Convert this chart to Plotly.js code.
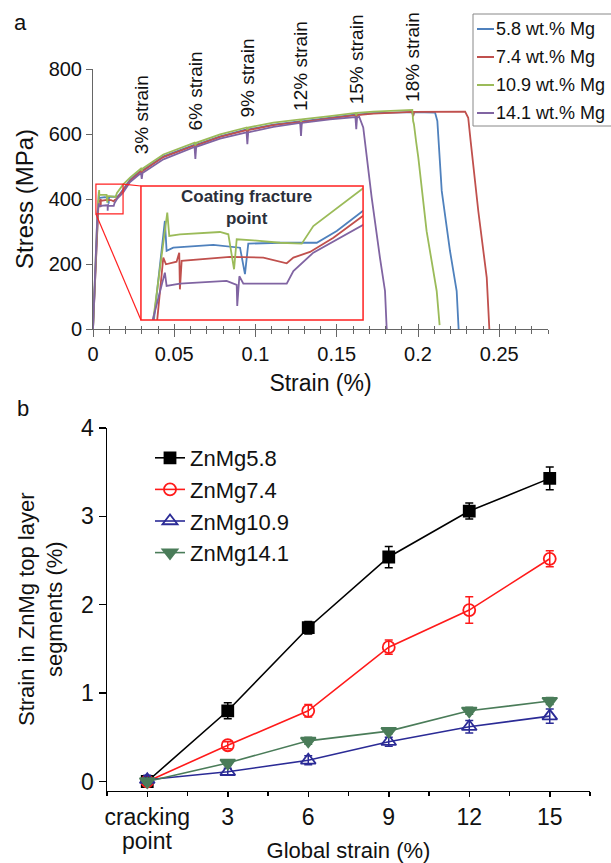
<!DOCTYPE html>
<html><head><meta charset="utf-8">
<script src="https://cdn.plot.ly/plotly-3.0.1.min.js"></script>
<style>html,body{margin:0;padding:0;background:#fff;} #chart{width:611px;height:863px;}</style>
</head><body><div id="chart"></div>
<script>
// ---------- Panel a data (strain, stress in MPa) ----------
const strain58 = [0, 0.00278, 0.0036, 0.00373, 0.00423, 0.00724, 0.00925, 0.00962, 0.00987, 0.01226, 0.01502, 0.01652, 0.01848, 0.0228, 0.0295, 0.030, 0.0305, 0.0433, 0.0625, 0.063, 0.0635, 0.0782, 0.0945, 0.095, 0.0955, 0.111, 0.1275, 0.128, 0.1285, 0.1458, 0.1615, 0.162, 0.1625, 0.1725, 0.193, 0.1965, 0.197, 0.1975, 0.2105, 0.2119, 0.2146, 0.2197, 0.2238, 0.2248, 0.2250];
const stress58 = [0, 354.5, 422, 401.4, 403.6, 405.5, 403.6, 385.4, 406.4, 407, 407, 415.1, 428.8, 460, 488, 478, 488, 531, 567, 555, 567, 593, 614, 602, 614, 629, 639, 628, 639, 650, 660, 649, 660, 664, 667, 667, 656, 667, 666, 640, 425, 240, 117, 4, 0];

const strain74 = [0, 0.00303, 0.00348, 0.00368, 0.00448, 0.00468, 0.00473, 0.00486, 0.0085, 0.011, 0.01276, 0.01326, 0.01451, 0.01627, 0.01848, 0.0228, 0.0295, 0.030, 0.0305, 0.0433, 0.0625, 0.063, 0.0635, 0.0782, 0.0945, 0.095, 0.0955, 0.111, 0.1275, 0.128, 0.1285, 0.1458, 0.1615, 0.162, 0.1625, 0.1725, 0.193, 0.1965, 0.197, 0.1975, 0.229, 0.2309, 0.2324, 0.2371, 0.2423, 0.2437, 0.2439];
const stress74 = [0, 354.5, 396.8, 392.2, 394, 400.2, 375, 394.5, 397.3, 396.8, 392.9, 396.8, 400.7, 410.5, 425.4, 456, 486, 477, 486, 529, 565, 554, 565, 591, 612, 601, 612, 627, 637, 626, 637, 648, 658, 647, 658, 663, 667, 668, 654, 668, 669, 650, 578, 363, 158, 4, 0];

const strain109 = [0, 0.00273, 0.00378, 0.00393, 0.00473, 0.00774, 0.00837, 0.0088, 0.0090, 0.01025, 0.01226, 0.01389, 0.01476, 0.01627, 0.01848, 0.0228, 0.0295, 0.030, 0.0305, 0.0433, 0.0625, 0.063, 0.0635, 0.0782, 0.0945, 0.095, 0.0955, 0.111, 0.1275, 0.128, 0.1285, 0.1458, 0.1615, 0.162, 0.1625, 0.1725, 0.193, 0.1965, 0.197, 0.1975, 0.1988, 0.2002, 0.2053, 0.2115, 0.2133];
const stress109 = [0, 354.5, 427.7, 411.7, 412.8, 414.4, 412.8, 388.8, 409.4, 408.7, 407, 406.4, 418.5, 428.8, 444.2, 466, 494, 486, 494, 537, 573, 565, 573, 599, 620, 612, 620, 635, 645, 637, 645, 655, 665, 657, 665, 669, 673, 674, 640, 630, 578, 527, 301, 117, 12];

const strain141 = [0, 0.0027, 0.0036, 0.00373, 0.00473, 0.00824, 0.0090, 0.00904, 0.0092, 0.0095, 0.01276, 0.01326, 0.01476, 0.01848, 0.0228, 0.0295, 0.030, 0.0305, 0.0433, 0.0625, 0.063, 0.0635, 0.0782, 0.0945, 0.095, 0.0955, 0.111, 0.1275, 0.128, 0.1285, 0.1458, 0.1615, 0.162, 0.1625, 0.1638, 0.1663, 0.1684, 0.1715, 0.1766, 0.1797, 0.1807, 0.1809];
const stress141 = [0, 354.5, 386.5, 377.3, 378.9, 380.8, 378, 363.6, 384, 378.9, 378.9, 387.6, 400.2, 419.2, 452, 480, 462, 480, 522, 560, 523, 560, 586, 605, 569, 605, 622, 634, 594, 634, 645, 652, 615, 650, 653, 620, 527, 404, 219, 117, 4, 0];

const seriesA = ["5.8 wt.% Mg", "7.4 wt.% Mg", "10.9 wt.% Mg", "14.1 wt.% Mg"];
const strainMarks = [0.030, 0.063, 0.095, 0.128, 0.162, 0.197];
const strainMarkLabels = ["3% strain", "6% strain", "9% strain", "12% strain", "15% strain", "18% strain"];
const strainMarkBase = [532, 604, 644, 665, 686, 693];
const xTickValsA = [0, 0.05, 0.1, 0.15, 0.2, 0.25];
const xTickTextA = ["0", "0.05", "0.1", "0.15", "0.2", "0.25"];
const yTickValsA = [0, 200, 400, 600, 800];

// ---------- Panel b data ----------
const catsB = [0, 3, 6, 9, 12, 15];
const catLabelsB = ["cracking", "3", "6", "9", "12", "15"];
const seriesB = ["ZnMg5.8", "ZnMg7.4", "ZnMg10.9", "ZnMg14.1"];
const znmg58 = [0, 0.80, 1.74, 2.54, 3.06, 3.43];
const znmg58err = [0.02, 0.09, 0.07, 0.12, 0.09, 0.13];
const znmg74 = [0, 0.41, 0.80, 1.52, 1.94, 2.52];
const znmg74err = [0.02, 0.04, 0.07, 0.08, 0.15, 0.09];
const znmg109 = [0.02, 0.11, 0.24, 0.45, 0.62, 0.74];
const znmg109err = [0.05, 0.04, 0.05, 0.05, 0.07, 0.08];
const znmg141 = [0, 0.21, 0.46, 0.57, 0.80, 0.91];
const znmg141err = [0.03, 0.03, 0.04, 0.03, 0.04, 0.04];

// ---------- layout helpers ----------
const W = 611, H = 863;
const PX = x => x / W;
const PY = y => 1 - y / H;
const FONT = "Liberation Sans, Arial, Helvetica, sans-serif";

const xRangeA = [0, 0.28], yRangeA = [0, 800];
const xDomA = [PX(93), PX(548)], yDomA = [PY(329), PY(69)];
const zoomX = [0.0018, 0.0185], zoomY = [354, 446];
const insetBox = {x0: 0.0295, x1: 0.1662, y0: 28, y1: 440};
const toDomX = v => xDomA[0] + (v - xRangeA[0]) / (xRangeA[1] - xRangeA[0]) * (xDomA[1] - xDomA[0]);
const toDomY = v => yDomA[0] + (v - yRangeA[0]) / (yRangeA[1] - yRangeA[0]) * (yDomA[1] - yDomA[0]);

const colorsA = ["#4F81BD", "#C0504D", "#9BBB59", "#8064A2"];
const curves = [[strain58, stress58], [strain74, stress74], [strain109, stress109], [strain141, stress141]];

const traces = [];
curves.forEach((c, i) => {
  traces.push({x: c[0], y: c[1], type: "scatter", mode: "lines", name: seriesA[i], showlegend: false,
    line: {color: colorsA[i], width: 1.8}, xaxis: "x", yaxis: "y", hoverinfo: "skip"});
});
curves.forEach((c, i) => {
  traces.push({x: c[0], y: c[1], type: "scatter", mode: "lines", name: seriesA[i] + " (inset)", showlegend: false,
    line: {color: colorsA[i], width: 1.8}, xaxis: "x3", yaxis: "y3", hoverinfo: "skip"});
});
// empty trace that only carries the inner half of the crossing x ticks of panel a
traces.push({x: [], y: [], type: "scatter", mode: "lines", xaxis: "x4", yaxis: "y", showlegend: false, hoverinfo: "skip"});

const colorsB = ["#000000", "#FF1A1A", "#2B2B96", "#4A7C59"];
const symbolsB = ["square", "circle-open", "triangle-up-open", "triangle-down"];
const sizesB = [11, 12, 13, 13];
const valsB = [znmg58, znmg74, znmg109, znmg141];
const errsB = [znmg58err, znmg74err, znmg109err, znmg141err];
valsB.forEach((v, i) => {
  traces.push({x: catsB, y: v, type: "scatter", mode: "lines+markers", name: seriesB[i],
    xaxis: "x2", yaxis: "y2", legend: "legend2",
    line: {color: colorsB[i], width: 1.6},
    marker: {symbol: symbolsB[i], size: sizesB[i], color: colorsB[i], line: {color: colorsB[i], width: 1.8}},
    error_y: {type: "data", array: errsB[i], visible: true, color: colorsB[i], thickness: 1.5, width: 4}});
});

const shapes = [
  {type: "rect", xref: "x", yref: "y", x0: zoomX[0], x1: zoomX[1], y0: zoomY[0], y1: zoomY[1], line: {color: "#FF2020", width: 1.2}},
  {type: "rect", xref: "x", yref: "y", x0: insetBox.x0, x1: insetBox.x1, y0: insetBox.y0, y1: insetBox.y1, line: {color: "#FF2020", width: 1.5}},
  {type: "line", xref: "x", yref: "y", x0: zoomX[1], y0: zoomY[1], x1: insetBox.x0, y1: insetBox.y1, line: {color: "#FF2020", width: 1.2}},
  {type: "line", xref: "x", yref: "y", x0: zoomX[0], y0: zoomY[0], x1: insetBox.x0, y1: insetBox.y0, line: {color: "#FF2020", width: 1.2}},
  // legend box (panel a)
  {type: "rect", xref: "paper", yref: "paper", x0: PX(473), x1: PX(640), y0: PY(126), y1: PY(14), line: {color: "#888888", width: 1}, fillcolor: "#ffffff"}
];
const legRowY = [29, 57, 85, 113];
const annotations = [
  {text: "a", xref: "paper", yref: "paper", x: PX(12), y: PY(22), xanchor: "left", yanchor: "middle", showarrow: false, font: {size: 22, color: "#111"}},
  {text: "b", xref: "paper", yref: "paper", x: PX(15), y: PY(408), xanchor: "left", yanchor: "middle", showarrow: false, font: {size: 22, color: "#111"}},
  {text: "<b>Coating fracture<br>point</b>", xref: "paper", yref: "paper", x: PX(247), y: PY(208), xanchor: "center", yanchor: "middle", showarrow: false, font: {size: 17, color: "#2B2F3A"}},
  // second line of the first category label of panel b (tight leading as in the original)
  {text: "point", xref: "x2", yref: "paper", x: catsB[0], y: PY(841), xanchor: "center", yanchor: "middle", showarrow: false, font: {size: 23, color: "#111"}}
];
strainMarks.forEach((s, i) => {
  annotations.push({text: strainMarkLabels[i], xref: "x", yref: "y", x: s, y: strainMarkBase[i], textangle: -90,
    xanchor: "center", yanchor: "bottom", showarrow: false, font: {size: 19, color: "#111"}});
});
seriesA.forEach((name, i) => {
  shapes.push({type: "line", xref: "paper", yref: "paper", x0: PX(477), x1: PX(494), y0: PY(legRowY[i]), y1: PY(legRowY[i]), line: {color: colorsA[i], width: 2}});
  annotations.push({text: name, xref: "paper", yref: "paper", x: PX(494), y: PY(legRowY[i]), xanchor: "left", yanchor: "middle", showarrow: false, font: {size: 18, color: "#111"}});
});

const axisA = {showgrid: false, zeroline: false, showline: true, linecolor: "#666", linewidth: 1, ticks: "outside", tickcolor: "#666", tickwidth: 1, tickfont: {size: 20, color: "#111"}};
const layout = {
  width: W, height: H, margin: {l: 0, r: 0, t: 0, b: 0}, paper_bgcolor: "#fff", plot_bgcolor: "rgba(0,0,0,0)",
  font: {family: FONT, color: "#111"}, showlegend: true,
  xaxis: Object.assign({}, axisA, {domain: xDomA, range: xRangeA, anchor: "y", tickmode: "array", tickvals: xTickValsA, ticktext: xTickTextA, ticklen: 7,
    minor: {dtick: 0.01, tick0: 0, ticks: "outside", ticklen: 3.5, tickcolor: "#666", showgrid: false},
    title: {text: "Strain (%)", font: {size: 23}, standoff: 10}}),
  xaxis4: {overlaying: "x", anchor: "y", range: xRangeA, showgrid: false, zeroline: false, showline: false, showticklabels: false,
    tickmode: "array", tickvals: xTickValsA, ticks: "inside", ticklen: 5, tickcolor: "#666", tickwidth: 1,
    minor: {dtick: 0.01, tick0: 0, ticks: "inside", ticklen: 3.5, tickcolor: "#666", showgrid: false}},
  yaxis: Object.assign({}, axisA, {domain: yDomA, range: yRangeA, anchor: "x", tickmode: "array", tickvals: yTickValsA, ticklen: 6,
    title: {text: "Stress (MPa)", font: {size: 24}, standoff: 8}}),
  xaxis3: {domain: [toDomX(insetBox.x0), toDomX(insetBox.x1)], range: zoomX, anchor: "y3", visible: false},
  yaxis3: {domain: [toDomY(insetBox.y0), toDomY(insetBox.y1)], range: zoomY, anchor: "x3", visible: false},
  xaxis2: {domain: [PX(107), PX(590)], range: [-1.5, 16.5], anchor: "y2", showgrid: false, zeroline: false, showline: true, linecolor: "#000", linewidth: 1.5,
    tickmode: "array", tickvals: catsB, ticktext: catLabelsB, ticks: "outside", ticklen: 5, tickwidth: 1.5, tickcolor: "#000",
    minor: {dtick: 1.5, tick0: -1.5, ticks: "outside", ticklen: 3.5, tickwidth: 1.5, tickcolor: "#000", showgrid: false},
    tickfont: {size: 23, color: "#111"}, title: {text: "Global strain (%)", font: {size: 22}, standoff: 22}},
  yaxis2: {domain: [PY(790.5), PY(428)], range: [-0.102, 4], anchor: "x2", showgrid: false, zeroline: false, showline: true, linecolor: "#000", linewidth: 1.5,
    tickmode: "array", tickvals: [0, 1, 2, 3, 4], ticks: "outside", ticklen: 7, tickwidth: 1.5, tickcolor: "#000",
    tickfont: {size: 23, color: "#111"}, title: {text: "Strain in ZnMg top layer<br>segments (%)", font: {size: 22}, standoff: 12}},
  legend2: {x: PX(150), y: PY(437), xanchor: "left", yanchor: "top", bgcolor: "rgba(0,0,0,0)", font: {size: 22, color: "#111"}, itemwidth: 30},
  shapes: shapes, annotations: annotations
};
Plotly.newPlot("chart", traces, layout, {displayModeBar: false, staticPlot: true});
</script></body></html>
